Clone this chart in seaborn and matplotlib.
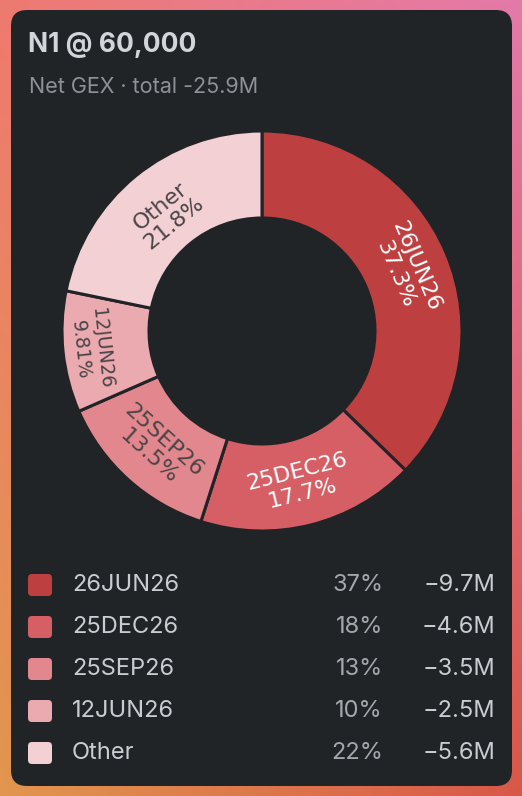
import numpy as np
import matplotlib
matplotlib.use("Agg")
import matplotlib.pyplot as plt
from matplotlib.patches import FancyBboxPatch
import seaborn as sns

# Data
expiries = ["26JUN26", "25DEC26", "25SEP26", "12JUN26", "Other"]
gex_m = [-9.7, -4.6, -3.5, -2.5, -5.6]
share_pct = [37.3, 17.7, 13.5, 9.81, 21.8]
legend_pct = [37, 18, 13, 10, 22]
title = "N1 @ 60,000"
subtitle = "Net GEX · total -25.9M"

# styling per slice
colors = ["#be3f40", "#d65f66", "#e2878d", "#ebaab0", "#f3d0d4"]
label_colors = ["white", "white", "#4a4446", "#4a4446", "#4a4446"]
label_sizes = [16, 16, 16, 13.5, 16]
label_radius = [0.78, 0.78, 0.79, 0.86, 0.75]

sns.set_style("white")
plt.rcParams["font.family"] = ["Inter", "DejaVu Sans"]

card_bg = "#212427"
W, H = 522, 796
fig = plt.figure(figsize=(W / 100, H / 100), dpi=100)

# gradient backdrop
bg = fig.add_axes([0, 0, 1, 1])
yy, xx = np.mgrid[0:1:200j, 0:1:200j]
tl = np.array([238, 122, 112]) / 255
tr = np.array([228, 122, 170]) / 255
bl = np.array([226, 150, 78]) / 255
br = np.array([216, 88, 72]) / 255
grad = (tl * ((1 - xx) * (1 - yy))[..., None] + tr * (xx * (1 - yy))[..., None]
        + bl * ((1 - xx) * yy)[..., None] + br * (xx * yy)[..., None])
bg.imshow(grad, extent=[0, W, H, 0], aspect="auto")
bg.set_xlim(0, W)
bg.set_ylim(H, 0)
bg.axis("off")
card = FancyBboxPatch((11, 10), 501, 776, boxstyle="round,pad=0,rounding_size=16",
                      fc=card_bg, ec="none")
bg.add_patch(card)

# header
bg.text(28, 45, title, color="#d2d6da", fontsize=19, fontweight="bold", va="center")
bg.text(29, 87, subtitle, color="#8c9298", fontsize=15.5, va="center")

# donut
cx, cy, r = 262, 331, 200
ax = fig.add_axes([(cx - 205) / W, (H - cy - 205) / H, 410 / W, 410 / H])
ax.set_facecolor("none")
wedges, _ = ax.pie(share_pct, colors=colors, startangle=90, counterclock=False,
                   radius=1, wedgeprops=dict(width=0.435, edgecolor=card_bg, linewidth=2.2))
lim = 205 / r
ax.set_xlim(-lim, lim)
ax.set_ylim(-lim, lim)
ax.set_aspect("equal")
ax.axis("off")

for w, name, pct, tc, fs, rr in zip(wedges, expiries, share_pct, label_colors,
                                    label_sizes, label_radius):
    mid = (w.theta1 + w.theta2) / 2
    x, y = rr * np.cos(np.radians(mid)), rr * np.sin(np.radians(mid))
    rot = (mid - 90) % 360
    if 90 < rot < 270:
        rot -= 180
    txt = f"{name}\n{pct:.3g}%"
    ax.text(x, y, txt, rotation=rot, rotation_mode="anchor", ha="center", va="center",
            color=tc, fontsize=fs, family="DejaVu Sans", linespacing=1.15)

# legend table
row_y = [585, 627, 669, 711, 753]
for yv, name, pct, val, c in zip(row_y, expiries, legend_pct, gex_m, colors):
    bg.add_patch(FancyBboxPatch((28, yv - 11), 24, 22, boxstyle="round,pad=0,rounding_size=4",
                                fc=c, ec="none"))
    bg.text(72, yv, name, color="#c9cdd1", fontsize=17, va="center")
    bg.text(383, yv, f"{pct}%", color="#a3a8ad", fontsize=17, va="center", ha="right")
    bg.text(495, yv, f"\u2212{abs(val):.1f}M", color="#c9cdd1", fontsize=17, va="center", ha="right")

fig.savefig("out.png", dpi=100)
